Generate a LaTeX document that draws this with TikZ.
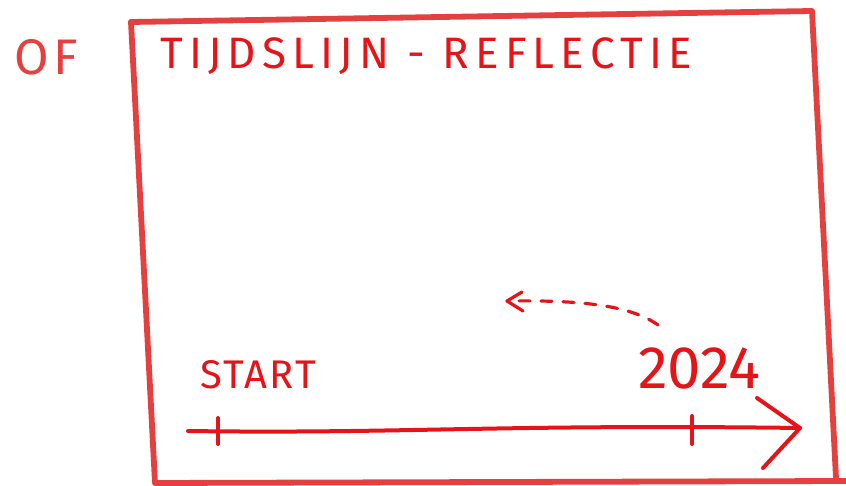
\documentclass[tikz,border=0pt]{standalone}
\usepackage{fontspec}
\setmainfont{Fira Sans}
\usetikzlibrary{arrows.meta}
\definecolor{ink}{RGB}{228,20,24}
\definecolor{crayon}{RGB}{228,64,64}
\tikzset{
  sketch/.style={draw=crayon, line width=5.8pt, line join=round, line cap=round},
  pen/.style={draw=ink, line width=4pt, line cap=round, line join=round},
  lbl/.style={text=ink, inner sep=0pt, anchor=west},
}
\begin{document}
\begin{tikzpicture}[x=1pt,y=-1pt]
\useasboundingbox (0,0) rectangle (846,486);
% frame
\coordinate (tl) at (131,22);
\coordinate (tr) at (812,11);
\coordinate (br) at (836,478);
\coordinate (bl) at (155,483);
\draw[sketch] (tl) -- (tr) -- (br);
\draw[sketch] (tl) -- (bl) -- (846,481);
% texts
\node[lbl, text=crayon, font=\fontsize{50}{50}\selectfont\addfontfeature{LetterSpace=9}] (of) at (14,57) {OF};
\node[lbl, font=\fontsize{44}{44}\selectfont\addfontfeature{LetterSpace=14}] (title) at (160,56) {TIJDSLIJN - REFLECTIE};
\node[lbl, font=\fontsize{40}{40}\selectfont\addfontfeature{LetterSpace=6}] (start) at (200,375) {START};
\node[lbl, font=\fontsize{60}{60}\selectfont] (year) at (638,368) {2024};
% timeline
\coordinate (t0) at (188,431);
\coordinate (t1) at (800,428);
\coordinate (s) at (218,430);
\coordinate (y) at (692,428);
\draw[pen] (t0) .. controls (400,434) and (500,424) .. (t1);
\draw[pen] (757,398) -- (t1) -- (763,468);
\draw[pen] ([yshift=-14]s) -- ([yshift=12]s);
\draw[pen] ([yshift=-16]y) -- ([yshift=12]y);
% dashed arc back
\coordinate (a0) at (658,325);
\coordinate (a1) at (507,301);
\draw[pen, line width=3.2pt, dash pattern=on 11pt off 11pt] (a0) .. controls (630,305) and (580,300) .. (a1);
\draw[pen, line width=3.2pt] (522,292) -- (a1) -- (523,311);
\end{tikzpicture}
\end{document}
